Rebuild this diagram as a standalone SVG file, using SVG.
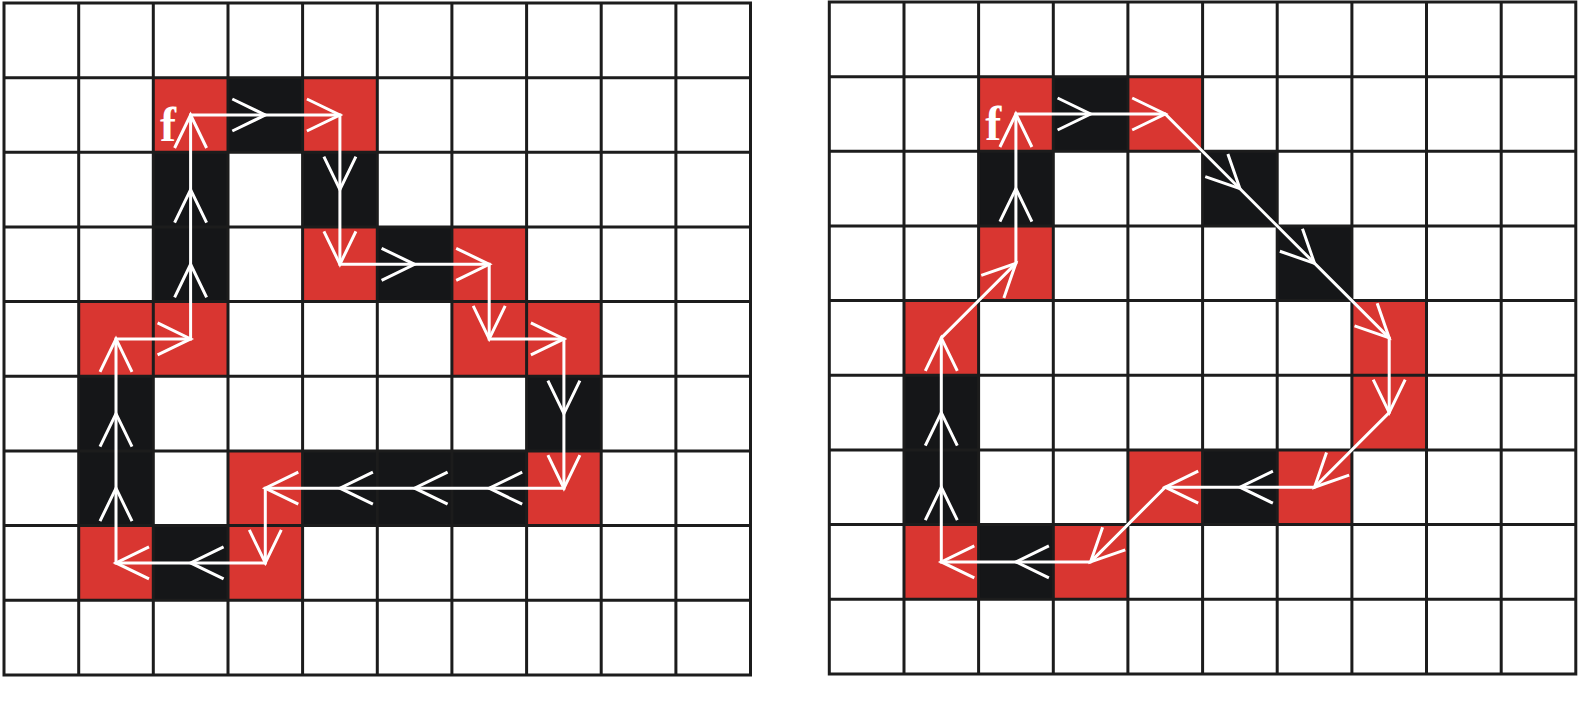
<svg xmlns="http://www.w3.org/2000/svg" xmlns:xlink="http://www.w3.org/1999/xlink" width="1579" height="722" viewBox="0 0 1579 722">
<style>
.r{fill:#d93631}
.k{fill:#151618}
.grid{fill:none;stroke:#1c1c1c;stroke-width:3}
.path{fill:none;stroke:#ffffff;stroke-width:3;stroke-linejoin:miter}
.lbl{font-family:"Liberation Serif","Times New Roman",serif;font-weight:bold;font-size:48px;fill:#ffffff}
</style>
<defs>
<path id="chev" d="M-33,-16 L0,0 L-33,16" fill="none" stroke="#ffffff" stroke-width="3"/>
<path id="gridlines" class="grid" d="M0,0H746.5V671.9H0Z M74.7,0V671.9 M149.3,0V671.9 M224,0V671.9 M298.6,0V671.9 M373.3,0V671.9 M447.9,0V671.9 M522.6,0V671.9 M597.2,0V671.9 M671.9,0V671.9 M0,74.7H746.5 M0,149.3H746.5 M0,224H746.5 M0,298.6H746.5 M0,373.3H746.5 M0,447.9H746.5 M0,522.6H746.5 M0,597.2H746.5"/>
</defs>
<rect x="0" y="0" width="1579" height="722" fill="#ffffff"/>

<g id="left-grid" transform="translate(4,3)">
<g id="left-cells">
<rect class="r" x="149.3" y="74.7" width="74.7" height="74.7"/>
<rect class="k" x="224" y="74.7" width="74.7" height="74.7"/>
<rect class="r" x="298.6" y="74.7" width="74.7" height="74.7"/>
<rect class="k" x="149.3" y="149.3" width="74.7" height="74.7"/>
<rect class="k" x="298.6" y="149.3" width="74.7" height="74.7"/>
<rect class="k" x="149.3" y="224" width="74.7" height="74.7"/>
<rect class="r" x="298.6" y="224" width="74.7" height="74.7"/>
<rect class="k" x="373.3" y="224" width="74.7" height="74.7"/>
<rect class="r" x="447.9" y="224" width="74.7" height="74.7"/>
<rect class="r" x="74.7" y="298.6" width="74.7" height="74.7"/>
<rect class="r" x="149.3" y="298.6" width="74.7" height="74.7"/>
<rect class="r" x="447.9" y="298.6" width="74.7" height="74.7"/>
<rect class="r" x="522.6" y="298.6" width="74.7" height="74.7"/>
<rect class="k" x="74.7" y="373.3" width="74.7" height="74.7"/>
<rect class="k" x="522.6" y="373.3" width="74.7" height="74.7"/>
<rect class="k" x="74.7" y="447.9" width="74.7" height="74.7"/>
<rect class="r" x="224" y="447.9" width="74.7" height="74.7"/>
<rect class="k" x="298.6" y="447.9" width="74.7" height="74.7"/>
<rect class="k" x="373.3" y="447.9" width="74.7" height="74.7"/>
<rect class="k" x="447.9" y="447.9" width="74.7" height="74.7"/>
<rect class="r" x="522.6" y="447.9" width="74.7" height="74.7"/>
<rect class="r" x="74.7" y="522.6" width="74.7" height="74.7"/>
<rect class="k" x="149.3" y="522.6" width="74.7" height="74.7"/>
<rect class="r" x="224" y="522.6" width="74.7" height="74.7"/>
</g>
<use xlink:href="#gridlines" href="#gridlines"/>
<g id="left-connectors">
<polygon class="path" points="186.6,112 335.9,112 335.9,261.3 485.2,261.3 485.2,335.9 559.9,335.9 559.9,485.2 261.3,485.2 261.3,559.9 112,559.9 112,335.9 186.6,335.9"/>
<use href="#chev" transform="translate(261.3,112)"/>
<use href="#chev" transform="translate(335.9,112)"/>
<use href="#chev" transform="translate(410.6,261.3)"/>
<use href="#chev" transform="translate(485.2,261.3)"/>
<use href="#chev" transform="translate(559.9,335.9)"/>
<use href="#chev" transform="translate(186.6,335.9)"/>
<use href="#chev" transform="translate(335.9,186.6) rotate(90)"/>
<use href="#chev" transform="translate(335.9,261.3) rotate(90)"/>
<use href="#chev" transform="translate(485.2,335.9) rotate(90)"/>
<use href="#chev" transform="translate(559.9,410.6) rotate(90)"/>
<use href="#chev" transform="translate(559.9,485.2) rotate(90)"/>
<use href="#chev" transform="translate(261.3,559.9) rotate(90)"/>
<use href="#chev" transform="translate(485.2,485.2) rotate(180)"/>
<use href="#chev" transform="translate(410.6,485.2) rotate(180)"/>
<use href="#chev" transform="translate(335.9,485.2) rotate(180)"/>
<use href="#chev" transform="translate(261.3,485.2) rotate(180)"/>
<use href="#chev" transform="translate(186.6,559.9) rotate(180)"/>
<use href="#chev" transform="translate(112,559.9) rotate(180)"/>
<use href="#chev" transform="translate(112,485.2) rotate(-90)"/>
<use href="#chev" transform="translate(112,410.6) rotate(-90)"/>
<use href="#chev" transform="translate(112,335.9) rotate(-90)"/>
<use href="#chev" transform="translate(186.6,261.3) rotate(-90)"/>
<use href="#chev" transform="translate(186.6,186.6) rotate(-90)"/>
<use href="#chev" transform="translate(186.6,112) rotate(-90)"/>
</g>
<text class="lbl" x="156" y="138">f</text>
</g>

<g id="right-grid" transform="translate(829.3,2)">
<g id="right-cells">
<rect class="r" x="149.3" y="74.7" width="74.7" height="74.7"/>
<rect class="k" x="224" y="74.7" width="74.7" height="74.7"/>
<rect class="r" x="298.6" y="74.7" width="74.7" height="74.7"/>
<rect class="k" x="149.3" y="149.3" width="74.7" height="74.7"/>
<rect class="k" x="373.3" y="149.3" width="74.7" height="74.7"/>
<rect class="r" x="149.3" y="224" width="74.7" height="74.7"/>
<rect class="k" x="447.9" y="224" width="74.7" height="74.7"/>
<rect class="r" x="74.7" y="298.6" width="74.7" height="74.7"/>
<rect class="r" x="522.6" y="298.6" width="74.7" height="74.7"/>
<rect class="k" x="74.7" y="373.3" width="74.7" height="74.7"/>
<rect class="r" x="522.6" y="373.3" width="74.7" height="74.7"/>
<rect class="k" x="74.7" y="447.9" width="74.7" height="74.7"/>
<rect class="r" x="298.6" y="447.9" width="74.7" height="74.7"/>
<rect class="k" x="373.3" y="447.9" width="74.7" height="74.7"/>
<rect class="r" x="447.9" y="447.9" width="74.7" height="74.7"/>
<rect class="r" x="74.7" y="522.6" width="74.7" height="74.7"/>
<rect class="k" x="149.3" y="522.6" width="74.7" height="74.7"/>
<rect class="r" x="224" y="522.6" width="74.7" height="74.7"/>
</g>
<use href="#gridlines"/>
<g id="right-connectors">
<polygon class="path" points="186.6,112 335.9,112 559.9,335.9 559.9,410.6 485.2,485.2 335.9,485.2 261.3,559.9 112,559.9 112,335.9 186.6,261.3"/>
<use href="#chev" transform="translate(261.3,112)"/>
<use href="#chev" transform="translate(335.9,112)"/>
<use href="#chev" transform="translate(410.6,186.6) rotate(45)"/>
<use href="#chev" transform="translate(485.2,261.3) rotate(45)"/>
<use href="#chev" transform="translate(559.9,335.9) rotate(45)"/>
<use href="#chev" transform="translate(559.9,410.6) rotate(90)"/>
<use href="#chev" transform="translate(485.2,485.2) rotate(135)"/>
<use href="#chev" transform="translate(261.3,559.9) rotate(135)"/>
<use href="#chev" transform="translate(410.6,485.2) rotate(180)"/>
<use href="#chev" transform="translate(335.9,485.2) rotate(180)"/>
<use href="#chev" transform="translate(186.6,559.9) rotate(180)"/>
<use href="#chev" transform="translate(112,559.9) rotate(180)"/>
<use href="#chev" transform="translate(112,485.2) rotate(-90)"/>
<use href="#chev" transform="translate(112,410.6) rotate(-90)"/>
<use href="#chev" transform="translate(112,335.9) rotate(-90)"/>
<use href="#chev" transform="translate(186.6,261.3) rotate(-45)"/>
<use href="#chev" transform="translate(186.6,186.6) rotate(-90)"/>
<use href="#chev" transform="translate(186.6,112) rotate(-90)"/>
</g>
<text class="lbl" x="156" y="138">f</text>
</g>
</svg>
